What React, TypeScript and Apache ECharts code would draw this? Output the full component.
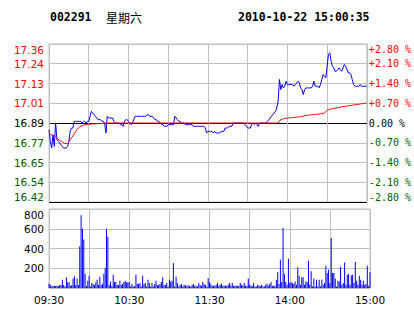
import React, { useEffect, useRef } from 'react';
import * as echarts from 'echarts';

const BASE = 16.89;
const STOCK = '002291';
const WEEKDAY = '星期六';
const STAMP = '2010-10-22 15:00:35';

// one-minute prices, 09:30..11:30 then 13:01..15:00
const priceData = [
  16.85, 16.78, 16.74, 16.82, 16.75, 16.89, 16.79, 16.78, 16.77, 16.76,
  16.75, 16.74, 16.74, 16.74, 16.75, 16.78, 16.84, 16.86, 16.86, 16.90,
  16.90, 16.90, 16.90, 16.90, 16.90, 16.89, 16.90, 16.90, 16.89, 16.90,
  16.90, 16.93, 16.96, 16.95, 16.94, 16.93, 16.92, 16.91, 16.91, 16.91,
  16.90, 16.90, 16.89, 16.83, 16.93, 16.92, 16.92, 16.92, 16.92, 16.90,
  16.89, 16.89, 16.89, 16.89, 16.88, 16.88, 16.87, 16.90, 16.91, 16.91,
  16.90, 16.89, 16.88, 16.89, 16.91, 16.93, 16.93, 16.93, 16.93, 16.93,
  16.93, 16.93, 16.93, 16.93, 16.94, 16.94, 16.93, 16.93, 16.93, 16.92,
  16.91, 16.91, 16.90, 16.90, 16.89, 16.88, 16.88, 16.87, 16.87, 16.87,
  16.88, 16.88, 16.88, 16.88, 16.88, 16.93, 16.92, 16.91, 16.90, 16.90,
  16.89, 16.89, 16.89, 16.88, 16.88, 16.88, 16.88, 16.88, 16.88, 16.87,
  16.87, 16.87, 16.87, 16.87, 16.87, 16.87, 16.87, 16.87, 16.86, 16.83,
  16.84, 16.84, 16.84, 16.84, 16.83, 16.84, 16.83, 16.83, 16.83, 16.83,
  16.84, 16.84, 16.84, 16.86, 16.86, 16.86, 16.87, 16.87, 16.87, 16.89,
  16.89, 16.89, 16.89, 16.89, 16.89, 16.89, 16.89, 16.89, 16.88, 16.87,
  16.86, 16.86, 16.86, 16.88, 16.89, 16.88, 16.89, 16.88, 16.87, 16.89,
  16.89, 16.89, 16.89, 16.89, 16.89, 16.90, 16.91, 16.92, 16.93, 16.94,
  16.95, 16.96, 16.98, 17.02, 17.15, 17.09, 17.12, 17.10, 17.11, 17.14,
  17.12, 17.12, 17.12, 17.12, 17.12, 17.11, 17.12, 17.13, 17.14, 17.13,
  17.10, 17.09, 17.06, 17.09, 17.10, 17.10, 17.10, 17.10, 17.10, 17.11,
  17.14, 17.11, 17.11, 17.11, 17.10, 17.12, 17.15, 17.18, 17.17, 17.16,
  17.23, 17.30, 17.31, 17.26, 17.23, 17.22, 17.20, 17.20, 17.21, 17.22,
  17.21, 17.20, 17.22, 17.24, 17.23, 17.21, 17.19, 17.19, 17.18, 17.15,
  17.12, 17.11, 17.11, 17.11, 17.11, 17.12, 17.11, 17.11, 17.11, 17.11,
  17.11,
];

const avgData = [
  16.830, 16.822, 16.818, 16.816, 16.814, 16.805, 16.798, 16.792, 16.786, 16.782,
  16.778, 16.770, 16.767, 16.767, 16.767, 16.775, 16.790, 16.802, 16.812, 16.826,
  16.838, 16.850, 16.858, 16.865, 16.871, 16.874, 16.877, 16.879, 16.880, 16.881,
  16.882, 16.883, 16.884, 16.885, 16.885, 16.885, 16.886, 16.886, 16.886, 16.887,
  16.887, 16.888, 16.889, 16.889, 16.890, 16.890, 16.890, 16.890, 16.890, 16.890,
  16.890, 16.890, 16.890, 16.890, 16.890, 16.890, 16.890, 16.890, 16.890, 16.890,
  16.890, 16.890, 16.890, 16.890, 16.890, 16.890, 16.890, 16.890, 16.890, 16.890,
  16.890, 16.890, 16.890, 16.890, 16.890, 16.890, 16.890, 16.890, 16.890, 16.890,
  16.890, 16.890, 16.890, 16.890, 16.890, 16.890, 16.890, 16.890, 16.890, 16.890,
  16.890, 16.890, 16.890, 16.890, 16.890, 16.890, 16.890, 16.890, 16.890, 16.890,
  16.890, 16.890, 16.890, 16.890, 16.890, 16.890, 16.890, 16.890, 16.890, 16.890,
  16.890, 16.890, 16.890, 16.890, 16.890, 16.890, 16.890, 16.890, 16.890, 16.890,
  16.890, 16.890, 16.890, 16.890, 16.890, 16.890, 16.890, 16.890, 16.890, 16.890,
  16.890, 16.890, 16.890, 16.890, 16.890, 16.890, 16.890, 16.890, 16.890, 16.890,
  16.890, 16.890, 16.890, 16.890, 16.890, 16.890, 16.890, 16.890, 16.890, 16.890,
  16.890, 16.890, 16.890, 16.890, 16.890, 16.890, 16.890, 16.890, 16.890, 16.890,
  16.890, 16.890, 16.890, 16.890, 16.890, 16.890, 16.890, 16.890, 16.890, 16.890,
  16.890, 16.890, 16.890, 16.890, 16.904, 16.908, 16.912, 16.915, 16.917, 16.918,
  16.919, 16.920, 16.921, 16.922, 16.922, 16.923, 16.924, 16.925, 16.926, 16.927,
  16.928, 16.930, 16.931, 16.933, 16.935, 16.936, 16.937, 16.938, 16.939, 16.940,
  16.941, 16.942, 16.942, 16.943, 16.944, 16.945, 16.946, 16.947, 16.950, 16.958,
  16.966, 16.969, 16.972, 16.974, 16.976, 16.977, 16.979, 16.980, 16.982, 16.983,
  16.985, 16.986, 16.988, 16.989, 16.990, 16.992, 16.993, 16.994, 16.995, 16.996,
  16.998, 16.999, 17.000, 17.001, 17.002, 17.004, 17.005, 17.006, 17.007, 17.008,
  17.009,
];

const volumeData = [
  44, 34, 15, 24, 24, 20, 24, 20, 30, 30,
  84, 30, 15, 108, 57, 57, 20, 30, 95, 118,
  30, 95, 30, 422, 736, 601, 490, 145, 20, 74,
  125, 15, 50, 40, 30, 57, 84, 30, 115, 30,
  40, 145, 206, 601, 520, 30, 67, 20, 135, 60,
  60, 30, 30, 74, 30, 40, 60, 74, 57, 57,
  57, 15, 40, 15, 20, 135, 40, 40, 50, 15,
  125, 40, 50, 15, 84, 50, 15, 50, 15, 40,
  74, 30, 30, 40, 60, 108, 30, 30, 50, 15,
  84, 67, 74, 253, 15, 115, 50, 15, 30, 40,
  15, 30, 30, 15, 30, 20, 15, 30, 40, 24,
  24, 15, 50, 30, 24, 60, 40, 30, 15, 101,
  60, 44, 24, 24, 24, 34, 50, 24, 34, 44,
  24, 24, 24, 24, 34, 50, 24, 50, 24, 24,
  24, 24, 24, 50, 34, 24, 50, 24, 24, 95,
  34, 24, 24, 50, 15, 15, 34, 24, 24, 34,
  15, 15, 34, 44, 24, 40, 60, 24, 24, 24,
  84, 162, 40, 287, 60, 608, 142, 60, 34, 297,
  50, 60, 50, 40, 67, 34, 209, 125, 34, 108,
  108, 34, 67, 60, 277, 34, 169, 15, 95, 15,
  84, 15, 84, 15, 84, 34, 50, 226, 152, 186,
  50, 507, 152, 152, 95, 15, 74, 67, 216, 34,
  50, 257, 34, 135, 142, 34, 128, 135, 50, 263,
  74, 34, 125, 84, 34, 74, 34, 40, 226, 24,
  159,
];

const xTickLabels = ['09:30', '10:30', '11:30', '14:00', '15:00'];

function pad(n: number) {
  return n < 10 ? '0' + n : String(n);
}

function buildTimes(): string[] {
  const out: string[] = [];
  for (let m = 9 * 60 + 30; m <= 11 * 60 + 30; m++) out.push(pad(Math.floor(m / 60)) + ':' + pad(m % 60));
  for (let m = 13 * 60 + 1; m <= 15 * 60; m++) out.push(pad(Math.floor(m / 60)) + ':' + pad(m % 60));
  return out;
}

const RED = '#ff0000';
const GREEN = '#006000';
const GRID = '#c0c0c0';
const LABEL_FONT = 'DejaVu Sans';

function signColor(v: any) {
  const n = Number(v);
  if (n > 1e-9) return RED;
  if (n < -1e-9) return GREEN;
  return '#000000';
}

export default function App() {
  const ref = useRef<HTMLDivElement>(null);

  useEffect(() => {
    if (!ref.current) return;
    const chart = echarts.init(ref.current, undefined, { renderer: 'svg' });
    const times = buildTimes();
    const toPct = (p: number) => (p / BASE - 1) * 100;
    const pricePct = priceData.map(toPct);
    const avgPct = avgData.map(toPct);

    const hLineColors = ['#000000', GRID, GRID, GRID, '#000000', GRID, GRID, GRID, GRID];

    const xSplit = {
      show: true,
      interval: (i: number) => i % 30 === 0,
      lineStyle: { color: GRID, width: 1 },
    };

    chart.setOption({
      animation: false,
      backgroundColor: '#ffffff',
      grid: [
        { left: 49, top: 44, width: 321, height: 158, show: true, borderColor: GRID, borderWidth: 1, backgroundColor: 'transparent' },
        { left: 49, top: 209, width: 321, height: 79, show: true, borderColor: GRID, borderWidth: 1, backgroundColor: 'transparent' },
      ],
      xAxis: [
        {
          type: 'category', gridIndex: 0, data: times, boundaryGap: false,
          axisLine: { show: false }, axisTick: { show: false }, axisLabel: { show: false },
          splitLine: xSplit,
        },
        {
          type: 'category', gridIndex: 1, data: times, boundaryGap: false,
          axisLine: { show: false }, axisTick: { show: false },
          axisLabel: {
            show: true,
            interval: (i: number, v: string) => xTickLabels.indexOf(v) >= 0 && i % 60 === 0,
            color: '#000', fontFamily: LABEL_FONT, fontSize: 10.5, margin: 6,
            showMinLabel: true, showMaxLabel: true,
          },
          splitLine: xSplit,
        },
      ],
      yAxis: [
        {
          type: 'value', gridIndex: 0, min: -2.8, max: 2.8, interval: 0.7, position: 'left',
          axisLine: { show: false }, axisTick: { show: false },
          splitLine: { show: true, lineStyle: { color: hLineColors, width: 1 } },
          axisLabel: {
            margin: 5, fontFamily: LABEL_FONT, fontSize: 10.5,
            formatter: (v: number) => (BASE * (1 + v / 100)).toFixed(2),
            color: (v: any) => signColor(v),
            verticalAlignMaxLabel: 'top', verticalAlignMinLabel: 'bottom',
          },
        },
        {
          type: 'value', gridIndex: 0, min: -2.8, max: 2.8, interval: 0.7, position: 'right',
          axisLine: { show: false }, axisTick: { show: false }, splitLine: { show: false },
          axisLabel: {
            margin: 2, fontFamily: 'DejaVu Sans Mono', fontSize: 10,
            formatter: (v: number) => {
              if (Math.abs(v) < 1e-9) return '0.00 %';
              return (v > 0 ? '+' : '') + v.toFixed(2) + ' %';
            },
            color: (v: any) => signColor(v),
            verticalAlignMaxLabel: 'top', verticalAlignMinLabel: 'bottom',
          },
        },
        {
          type: 'value', gridIndex: 1, min: 0, max: 800, interval: 200,
          axisLine: { show: false }, axisTick: { show: false },
          splitLine: { show: true, lineStyle: { color: GRID, width: 1 } },
          axisLabel: {
            margin: 5, fontFamily: LABEL_FONT, fontSize: 10.5, color: '#000',
            showMinLabel: false,
            formatter: (v: number) => (v === 0 ? '' : String(v)),
            verticalAlignMaxLabel: 'top',
          },
        },
      ],
      series: [
        {
          name: 'price', type: 'line', xAxisIndex: 0, yAxisIndex: 0, data: pricePct,
          showSymbol: false, symbol: 'none', lineStyle: { color: '#0000ff', width: 1 }, z: 3,
        },
        {
          name: 'avg', type: 'line', xAxisIndex: 0, yAxisIndex: 0, data: avgPct,
          showSymbol: false, symbol: 'none', lineStyle: { color: '#ff0000', width: 1 }, z: 4,
        },
        {
          name: 'volume', type: 'bar', xAxisIndex: 1, yAxisIndex: 2, data: volumeData,
          barWidth: 1, itemStyle: { color: '#0000ff' },
        },
      ],
      graphic: [
        {
          type: 'text', x: 50, y: 17,
          style: { text: STOCK, fill: '#000', font: 'bold 11.5px "DejaVu Sans Mono"', verticalAlign: 'middle', align: 'left' },
        },
        {
          type: 'text', x: 106, y: 17,
          style: { text: WEEKDAY, fill: '#000', font: '12px "Noto Sans CJK SC"', verticalAlign: 'middle', align: 'left' },
        },
        {
          type: 'text', x: 238, y: 17,
          style: { text: STAMP, fill: '#000', font: 'bold 11.5px "DejaVu Sans Mono"', verticalAlign: 'middle', align: 'left' },
        },
      ],
    });

    return () => chart.dispose();
  }, []);

  return (
    <div
      ref={ref}
      style={{ position: 'absolute', left: 0, top: 0, width: 414, height: 314, background: '#fff' }}
    />
  );
}
